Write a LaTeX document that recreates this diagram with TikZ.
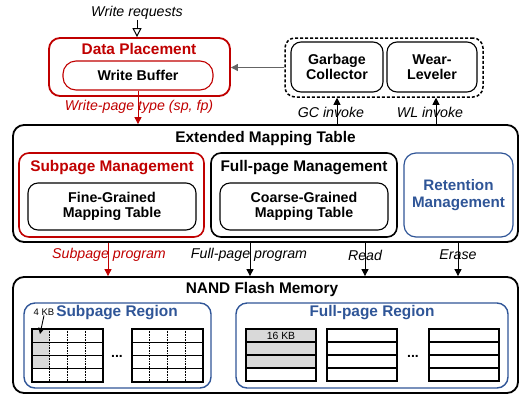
\documentclass[tikz,border=0pt]{standalone}
\usepackage{fontspec}
\setmainfont{Liberation Sans}
\usetikzlibrary{arrows.meta}
\definecolor{myred}{RGB}{192,0,0}
\definecolor{myblue}{RGB}{47,85,151}
\definecolor{cellgray}{RGB}{217,217,217}
\definecolor{linegray}{RGB}{100,100,100}
\begin{document}
\begin{tikzpicture}[x=1pt,y=-1pt,
  bigbox/.style={draw, line width=1.8pt, rounded corners=11pt, inner sep=0pt},
  midbox/.style={draw, line width=1.6pt, rounded corners=10pt, inner sep=0pt},
  smallbox/.style={draw, line width=1.1pt, rounded corners=10pt, inner sep=0pt, align=center,
     font=\fontsize{14.2}{14.6}\selectfont\bfseries},
  headtxt/.style={font=\fontsize{15.4}{15.4}\selectfont\bfseries, inner sep=0pt},
  lbl/.style={font=\fontsize{14.2}{14.2}\selectfont\itshape, inner sep=0pt},
  arr/.style={line width=0.9pt, -{Triangle[length=7pt,width=7pt]}},
  gridline/.style={line width=1.4pt},
  dotline/.style={line width=0.6pt, densely dotted}
]
\useasboundingbox (0,0) rectangle (521,397);

% ---- top row ----
\node[lbl] (wrq) at (137,13) {Write requests};
\node[bigbox, draw=myred, minimum width=181pt, minimum height=58pt] (dp) at (139.5,67) {};
\node[headtxt, text=myred] (dpt) at (139,49) {Data Placement};
\node[smallbox, draw=myred, rounded corners=13pt, minimum width=150pt, minimum height=29pt] (wb) at (138,75.5) {Write Buffer};

\node[draw, line width=1.5pt, dash pattern=on 3pt off 2pt, rounded corners=10pt, minimum width=198pt, minimum height=59pt, inner sep=0pt] (grp) at (384,67.5) {};
\node[smallbox, minimum width=92pt, minimum height=50pt] (gc) at (337,67) {Garbage\\Collector};
\node[smallbox, minimum width=90pt, minimum height=50pt] (wl) at (432,67) {Wear-\\Leveler};

% ---- extended mapping table ----
\node[bigbox, minimum width=505pt, minimum height=117pt] (emt) at (265.5,183.5) {};
\node[headtxt] (emtt) at (265.5,139) {Extended Mapping Table};
\node[midbox, draw=myred, minimum width=185pt, minimum height=84pt] (sm) at (111.5,195) {};
\node[headtxt, text=myred] (smt) at (112,168) {Subpage Management};
\node[smallbox, minimum width=168pt, minimum height=47pt] (fg) at (112,206.5) {Fine-Grained\\Mapping Table};
\node[midbox, minimum width=186pt, minimum height=84pt] (fm) at (304,195) {};
\node[headtxt] (fmt) at (304,168) {Full-page Management};
\node[smallbox, minimum width=168pt, minimum height=47pt] (cg) at (304,206.5) {Coarse-Grained\\Mapping Table};
\node[draw=myblue, line width=1.2pt, rounded corners=12pt, minimum width=109pt, minimum height=84pt, inner sep=0pt,
      align=center, text=myblue, font=\fontsize{15.2}{16.5}\selectfont\bfseries] (rm) at (458.5,195) {Retention\\Management};

% ---- NAND flash ----
\node[bigbox, minimum width=505pt, minimum height=116pt] (nand) at (265.5,335) {};
\node[headtxt] (nandt) at (262,290) {NAND Flash Memory};
\node[draw=myblue, line width=1.4pt, rounded corners=11pt, minimum width=187pt, minimum height=85pt, inner sep=0pt] (sr) at (117.5,345.5) {};
\node[headtxt, text=myblue] (srt) at (117,313) {Subpage Region};
\node[draw=myblue, line width=1.4pt, rounded corners=11pt, minimum width=272pt, minimum height=85pt, inner sep=0pt] (fr) at (372,345.5) {};
\node[headtxt, text=myblue] (frt) at (372,313) {Full-page Region};

% subpage grids
\foreach \gx in {32,132} {
  \ifnum\gx=32 \fill[cellgray] (\gx,329) rectangle ++(17.75,39.75); \fi
  \foreach \c in {1,2,3} \draw[dotline] (\gx+\c*17.75,329) -- (\gx+\c*17.75,382);
  \foreach \r in {1,2,3} \draw[gridline] (\gx,329+\r*13.25) -- ++(71,0);
  \draw[gridline] (\gx,329) rectangle ++(71,53);
}
% full-page grids
\foreach \gx in {246,327,429} {
  \ifnum\gx=246 \fill[cellgray] (\gx,329) rectangle ++(70,39); \fi
  \foreach \r in {1,2,3} \draw[gridline] (\gx,329+\r*13) -- ++(70,0);
  \draw[gridline] (\gx,329) rectangle ++(70,52);
}
\node[font=\fontsize{10.4}{10.4}\selectfont, inner sep=0pt] (kb16) at (281,335.5) {16 KB};
\node[font=\fontsize{9.5}{9.5}\selectfont, inner sep=0pt] (kb4) at (44,312) {4 KB};
\coordinate (cell4) at (40,334);
\draw[line width=0.9pt, -{Triangle[length=6pt,width=6pt]}] (kb4.south) -- (cell4);
\node[font=\fontsize{14}{14}\selectfont\bfseries, inner sep=0pt] (dots1) at (117,356) {...};
\node[font=\fontsize{14}{14}\selectfont\bfseries, inner sep=0pt] (dots2) at (413,356) {...};

% ---- connectors ----
\draw[line width=1pt, -{Triangle[open,length=9pt,width=9pt]}] (wrq.south) -- (wrq.south |- dp.north);
\draw[arr, linegray] (grp.west) -- (dp.east |- grp.west);
\draw[arr, myred] (wb.south) -- (wb.south |- emt.north);
\node[lbl, text=myred] (wpt) at (139,107) {Write-page type (sp, fp)};

\coordinate (xgc) at (337,0);
\coordinate (xwl) at (436,0);
\draw[arr] (emt.north -| xgc) -- (grp.south -| xgc);
\draw[arr] (emt.north -| xwl) -- (grp.south -| xwl);
\node[lbl] (gci) at (331,112) {GC invoke};
\node[lbl] (wli) at (430,112) {WL invoke};

\coordinate (xsp) at (108,0);
\coordinate (xfp) at (250,0);
\coordinate (xrd) at (365,0);
\coordinate (xer) at (458,0);
\draw[arr, myred] (emt.south -| xsp) -- (nand.north -| xsp);
\draw[arr] (emt.south -| xfp) -- (nand.north -| xfp);
\draw[arr] (emt.south -| xrd) -- (nand.north -| xrd);
\draw[arr] (emt.south -| xer) -- (nand.north -| xer);
\node[lbl, text=myred] (spp) at (109,255) {Subpage program};
\node[lbl] (fpp) at (249,255) {Full-page program};
\node[lbl] (rdl) at (365,255) {Read};
\node[lbl] (erl) at (458,255) {Erase};
\end{tikzpicture}
\end{document}
